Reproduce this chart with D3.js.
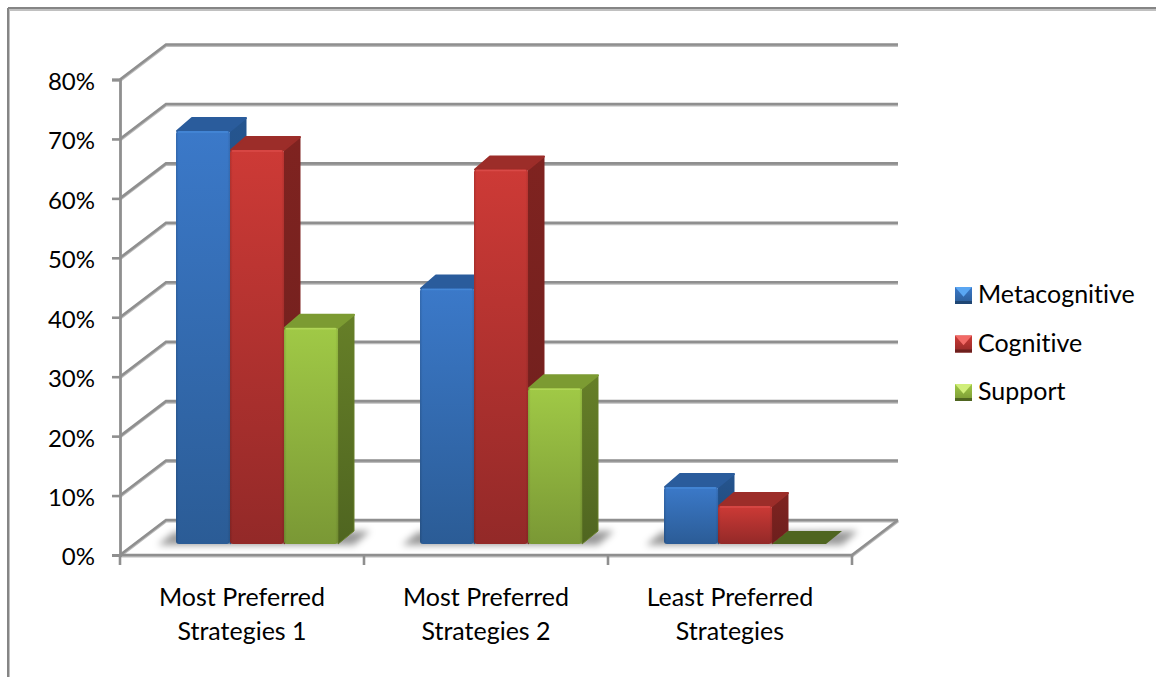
<!DOCTYPE html>
<html>
<head>
<meta charset="utf-8">
<script src="https://cdn.jsdelivr.net/npm/d3@7/dist/d3.min.js"></script>
<style>
  html, body { margin: 0; padding: 0; background: #fff; }
  svg { display: block; }
  text { font-family: Lato, "Open Sans", sans-serif; fill: #000; font-variant-ligatures: none; }
</style>
</head>
<body>
<svg id="chart" width="1156" height="677"></svg>
<script>
// Chart values, in percent
const categories = [["Most Preferred", "Strategies 1"], ["Most Preferred", "Strategies 2"], ["Least Preferred", "Strategies"]];
const seriesNames = ["Metacognitive", "Cognitive", "Support"];
const metacognitive = [69.5, 43, 9.6];
const cognitive = [66.3, 63, 6.4];
const support = [36.4, 26.2, 0];
const yTicks = [0, 10, 20, 30, 40, 50, 60, 70, 80];

const seriesValues = [metacognitive, cognitive, support];

// Colour ramps per series: front top/bottom, top face, side top/bottom, legend highlight
const palette = [
  { hi: "#3b79c9", lo: "#2b5c96", top: "#2a5c9c", sideHi: "#25558f", sideLo: "#1f4674", flash: "#5aa6f2" },
  { hi: "#cd3a36", lo: "#932928", top: "#9c2d29", sideHi: "#7f2320", sideLo: "#6d1f1d", flash: "#f26a66" },
  { hi: "#a0c946", lo: "#7a9835", top: "#7c9b32", sideHi: "#667f28", sideLo: "#4f6520", flash: "#d0ee7a" }
];

const svg = d3.select("#chart");
const defs = svg.append("defs");

// Floor and wall depth of the 3D box, and depth of each column
const wallDx = 46, wallDy = -35;
const barDx = 16, barDy = -13;
const barFloorLift = 11;

const x = d3.scaleBand().domain(d3.range(categories.length)).range([120, 852]);
const xSeries = d3.scaleBand().domain(d3.range(seriesNames.length)).range([56, 218]);
const y = d3.scaleLinear().domain([0, 80]).range([555, 79.5]);

const gridColor = "#8f8f8f";
const gridEdge = "#bcbcbc";

// Gradients and blur
palette.forEach((p, i) => {
  const front = defs.append("linearGradient").attr("id", `front${i}`).attr("x1", 0).attr("x2", 0).attr("y1", 0).attr("y2", 1);
  front.append("stop").attr("offset", "0%").attr("stop-color", p.hi);
  front.append("stop").attr("offset", "100%").attr("stop-color", p.lo);
  const side = defs.append("linearGradient").attr("id", `side${i}`).attr("x1", 0).attr("x2", 0).attr("y1", 0).attr("y2", 1);
  side.append("stop").attr("offset", "0%").attr("stop-color", p.sideHi);
  side.append("stop").attr("offset", "100%").attr("stop-color", p.sideLo);
});
const edgeSheen = defs.append("linearGradient").attr("id", "sheen");
[[0, "#000", 0.14], [0.05, "#000", 0], [0.95, "#000", 0], [1, "#000", 0.1]].forEach(([o, c, a]) => {
  edgeSheen.append("stop").attr("offset", o).attr("stop-color", c).attr("stop-opacity", a);
});
defs.append("filter").attr("id", "floorBlur").attr("x", "-30%").attr("y", "-80%").attr("width", "160%").attr("height", "260%")
  .append("feGaussianBlur").attr("stdDeviation", 3.6);

// Outer frame: only the top and left edges fall inside the canvas
const frame = svg.append("g").attr("fill", "none");
frame.append("path").attr("d", "M9,9.5H1156M8.5,9V677").attr("stroke", "#c0c0c0").attr("stroke-width", 3);
frame.append("path").attr("d", "M8,8H1156M8,8V677").attr("stroke", "#858585").attr("stroke-width", 2);

// Stroke a line with its pale lower edge
function gridLine(sel, d) {
  sel.append("path").attr("d", d).attr("fill", "none").attr("stroke", gridEdge).attr("stroke-width", 3).attr("transform", "translate(0,1)");
  sel.append("path").attr("d", d).attr("fill", "none").attr("stroke", gridColor).attr("stroke-width", 2.6);
}

// Back wall gridlines and the diagonal runs along the side wall
const walls = svg.append("g");
yTicks.forEach(t => {
  gridLine(walls, `M${120},${y(t)}L${120 + wallDx},${y(t) + wallDy}H${898}`);
});

// Floor: right edge and front edge
const xMin = x.range()[0], xMax = x.range()[1];
gridLine(walls, `M${xMax},${y(0)}L${xMax + wallDx},${y(0) + wallDy}`);
gridLine(walls, `M${xMin},${y(0)}H${xMax}`);

// Value axis
const yAxis = d3.axisLeft(y).tickValues(yTicks).tickFormat(d => d + "%").tickSize(8).tickPadding(17);
const yAxisG = svg.append("g").attr("transform", "translate(120,0)").call(yAxis);
yAxisG.selectAll("path.domain").attr("stroke", gridColor).attr("stroke-width", 2.8);
yAxisG.selectAll(".tick line").attr("stroke", gridColor).attr("stroke-width", 2.6);
yAxisG.selectAll(".tick text").attr("font-size", 24).attr("dy", "0.62em").style("font-family", "Lato, 'Open Sans', sans-serif").attr("fill", "#000");
yAxisG.selectAll(".tick text").attr("transform", "translate(0,-5)");

// Category axis with ticks on the band edges
const catTicks = svg.append("g");
d3.range(categories.length + 1).forEach(i => {
  const tx = i < categories.length ? x(i) : xMax;
  catTicks.append("line").attr("x1", tx).attr("x2", tx).attr("y1", y(0)).attr("y2", y(0) + 10)
    .attr("stroke", gridColor).attr("stroke-width", 2.6);
});
const catLabels = svg.append("g").attr("text-anchor", "middle").attr("font-size", 25);
categories.forEach((lines, i) => {
  const label = catLabels.append("text").attr("x", x(i) + x.bandwidth() / 2).attr("y", 606);
  lines.forEach((line, j) => {
    label.append("tspan").attr("x", x(i) + x.bandwidth() / 2).attr("y", 606 + j * 33.5).text(line);
  });
});

// Soft shadow on the floor behind each cluster of columns
const shadows = svg.append("g").attr("filter", "url(#floorBlur)");
categories.forEach((_, i) => {
  const left = x(i) + xSeries(0);
  const right = x(i) + xSeries(seriesNames.length - 1) + xSeries.bandwidth();
  const base = y(0) - barFloorLift;
  shadows.append("polygon")
    .attr("points", [[left - 18, base + 1], [left - 2, base - 12], [right + 32, base - 13], [right + 16, base + 1]].join(" "))
    .attr("fill", "#000").attr("fill-opacity", 0.4);
});

// Columns, drawn left to right so each front covers its neighbour's side
const columns = svg.append("g");
categories.forEach((_, c) => {
  seriesValues.forEach((vals, s) => {
    const v = vals[c];
    const p = palette[s];
    const bx = x(c) + xSeries(s);
    const bw = xSeries.bandwidth();
    const yb = y(0) - barFloorLift;
    const yt = y(v) - barFloorLift;
    const g = columns.append("g");
    if (v === 0) {
      g.append("polygon")
        .attr("points", [[bx, yb], [bx + barDx, yb + barDy], [bx + bw + barDx, yb + barDy], [bx + bw, yb]].join(" "))
        .attr("fill", p.sideLo);
      return;
    }
    g.append("polygon")
      .attr("points", [[bx + bw, yt], [bx + bw + barDx, yt + barDy], [bx + bw + barDx, yb + barDy], [bx + bw, yb]].join(" "))
      .attr("fill", `url(#side${s})`).attr("stroke", p.sideHi).attr("stroke-width", 1).attr("stroke-linejoin", "round");
    g.append("polygon")
      .attr("points", [[bx + 1, yt], [bx + barDx, yt + barDy], [bx + bw + barDx, yt + barDy], [bx + bw, yt]].join(" "))
      .attr("fill", p.top).attr("stroke", p.top).attr("stroke-width", 2).attr("stroke-linejoin", "round");
    g.append("rect").attr("x", bx).attr("y", yt).attr("width", bw).attr("height", yb - yt)
      .attr("rx", 3).attr("fill", `url(#front${s})`);
    g.append("rect").attr("x", bx).attr("y", yt).attr("width", bw).attr("height", yb - yt)
      .attr("rx", 3).attr("fill", "url(#sheen)");
    g.append("line").attr("x1", bx + 2).attr("x2", bx + bw - 2).attr("y1", yt + 1).attr("y2", yt + 1)
      .attr("stroke", p.flash).attr("stroke-opacity", 0.35).attr("stroke-width", 1.5);
  });
});

// Legend with bevelled swatches
const legendY = d3.scalePoint().domain(seriesNames).range([295, 392]);
const legend = svg.append("g");
seriesNames.forEach((name, s) => {
  const p = palette[s];
  const ly = legendY(name);
  const lx = 955, sz = 17, top = ly - 8;
  const g = legend.append("g");
  g.append("rect").attr("x", lx).attr("y", top).attr("width", sz).attr("height", sz).attr("fill", `url(#front${s})`);
  g.append("polygon").attr("points", [[lx, top], [lx + sz, top], [lx + sz / 2, top + sz * 0.58]].join(" ")).attr("fill", p.flash);
  g.append("polygon").attr("points", [[lx, top + sz - 3], [lx + sz, top + sz - 3], [lx + sz, top + sz], [lx, top + sz]].join(" ")).attr("fill", p.sideLo);
  legend.append("text").attr("x", 978).attr("y", ly + 8).attr("font-size", 25).text(name);
});
</script>
</body>
</html>
